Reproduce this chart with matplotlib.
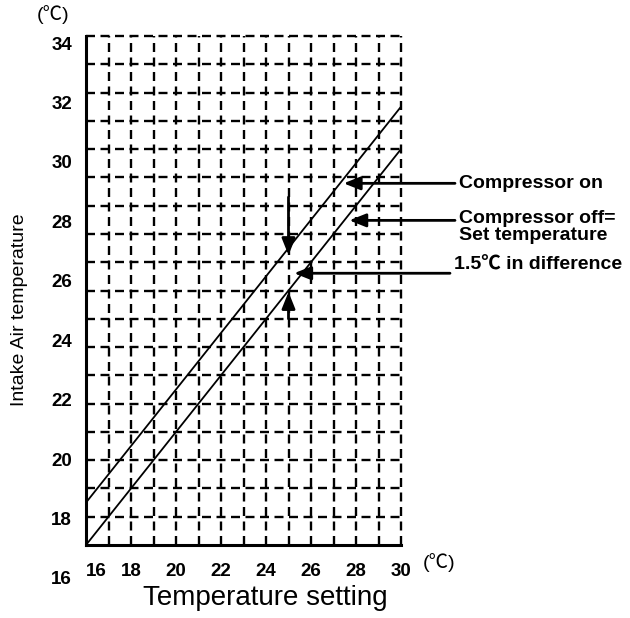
import matplotlib
matplotlib.use("Agg")
import matplotlib.pyplot as plt
import numpy as np

# ---- data ----
set_temp = [16, 30]                 # temperature setting (x)
compressor_off = [16, 30]           # compressor off = set temperature
compressor_on = [17.5, 31.5]        # compressor on (1.5 degC higher)
x_ticks = [16, 18, 20, 22, 24, 26, 28, 30]
y_tick_labels = [16, 18, 20, 22, 24, 26, 28, 30, 32, 34]
x_grid = list(range(17, 31))
y_grid = list(range(17, 35))

labels = ["Compressor on", "Compressor off=\nSet temperature", "1.5\u2103 in difference"]
label_y = [28.79, 27.26, 25.89]     # label vertical positions (data)
label_px = [459, 459, 454]
arrow_start_px = [455, 455, 450]
arrow_tip_x = [27.45, 27.7, 25.25]
arrow_tip_y = [28.79, 27.48, 25.61]
vert_arrow_x = 25
vert_arrow_from = [28.3, 24.0]
vert_arrow_to = [26.25, 24.95]

FONT = ["Liberation Sans", "Noto Sans CJK SC", "DejaVu Sans"]
plt.rcParams["font.family"] = FONT
plt.rcParams["lines.scale_dashes"] = False

W, H = 630, 618
fig = plt.figure(figsize=(W / 100, H / 100), dpi=100)
L, R, B, T = 86, 401, 545, 36
ax = fig.add_axes([L / W, 1 - B / H, (R - L) / W, (B - T) / H])
ax.set_xlim(16, 30)
ax.set_ylim(16, 34)

dash = (0, (9 * 0.72, 5.5 * 0.72))
for xv in x_grid:
    ax.axvline(xv, color="black", lw=1.7, linestyle=dash, clip_on=False, zorder=1)
for yv in y_grid:
    ax.axhline(yv, color="black", lw=1.7, linestyle=dash, clip_on=False, zorder=1)

for s in ["top", "right"]:
    ax.spines[s].set_visible(False)
for s in ["left", "bottom"]:
    ax.spines[s].set_linewidth(2.2)

ax.plot(set_temp, compressor_on, color="black", lw=1.3, zorder=3)
ax.plot(set_temp, compressor_off, color="black", lw=1.3, zorder=3)

# horizontal annotation arrows
px_per_deg = (R - L) / 14
astyle = "-|>,head_length=1.0,head_width=0.4"
for sp, tx, ty in zip(arrow_start_px, arrow_tip_x, arrow_tip_y):
    ax.annotate("", xy=(tx, ty), xytext=(16 + (sp - L) / px_per_deg, ty),
                arrowprops=dict(arrowstyle=astyle, color="black", lw=2,
                                shrinkA=0, shrinkB=0),
                annotation_clip=False, zorder=4)
for lab, ly, lp in zip(labels, label_y, label_px):
    ax.text(16 + (lp - L) / px_per_deg, ly, lab, fontsize=14, fontweight="bold",
            ha="left", va="center", linespacing=1.0, clip_on=False)

# vertical arrows
for y0, y1 in zip(vert_arrow_from, vert_arrow_to):
    ax.annotate("", xy=(vert_arrow_x, y1), xytext=(vert_arrow_x, y0),
                arrowprops=dict(arrowstyle=astyle, color="black", lw=2,
                                shrinkA=0, shrinkB=0),
                annotation_clip=False, zorder=4)

# x ticks
ax.set_xticks(x_ticks)
ax.set_xticklabels([str(v) for v in x_ticks], fontsize=13.5, fontweight="bold")
ax.tick_params(axis="x", length=0, pad=13)
ax.get_xticklabels()[0].set_horizontalalignment("left")
ax.set_yticks([])
ax.text((423 - L) / (R - L), -(563 - B) / (B - T), "(\u2103)", transform=ax.transAxes,
        fontsize=14, ha="left", va="center")
ax.set_xlabel("Temperature setting", fontsize=20, labelpad=4)
ax.xaxis.set_label_coords((265 - L) / (R - L), -(598 - B) / (B - T))
ax.xaxis.label.set_verticalalignment("center")

# y tick labels (drawn on a separate label axis as in the original)
lab_ax = fig.add_axes([L / W, 1 - 578 / H, (R - L) / W, (578 - 43) / H])
lab_ax.set_ylim(16, 34)
lab_ax.set_xlim(0, 1)
lab_ax.patch.set_visible(False)
for s in lab_ax.spines.values():
    s.set_visible(False)
lab_ax.set_xticks([])
lab_ax.set_yticks(y_tick_labels)
lab_ax.set_yticklabels([str(v) for v in y_tick_labels], fontsize=13.5, fontweight="bold")
lab_ax.tick_params(axis="y", length=0, pad=10)

fig.text(20 / W, 1 - 310 / H, "Intake Air temperature", rotation=90, fontsize=14,
         ha="center", va="center")
fig.text(37 / W, 1 - 15 / H, "(\u2103)", fontsize=14, ha="left", va="center")

fig.savefig("out.png", dpi=100)
